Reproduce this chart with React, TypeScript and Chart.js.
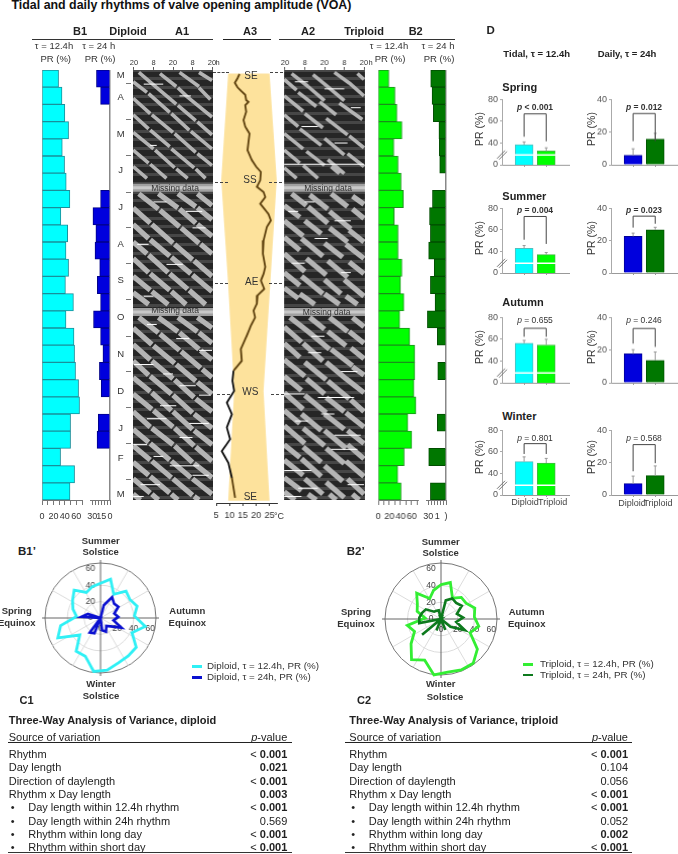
import React, { useEffect, useRef } from "react";
import Chart from "chart.js/auto";

Chart.defaults.font.family = "'Liberation Sans', Arial, sans-serif";

const fortnights = ["Mar b","Apr a","Apr b","May a","May b","Jun a","Jun b","Jul a","Jul b","Aug a","Aug b","Sep a","Sep b","Oct a","Oct b","Nov a","Nov b","Dec a","Dec b","Jan a","Jan b","Feb a","Feb b","Mar a","Mar c"];
const dipTidal = [29,35,40,46.5,35.5,39.5,42.4,48.8,33,45,42,46.5,41,55,42,56,57,58.7,64,65.7,50,50,32.5,57,49];
const dipDaily = [23,16,null,null,null,null,null,16,29,24,25.5,17.5,21.5,16,28,16,12,18,15,null,20,22,null,null,null];
const triTidal = [19,30,33.5,42.5,28,35.5,41,45,28.5,35.5,35.5,42.5,40,46,38.5,56.5,65.5,65.5,64,67.5,53,60,46.5,35,41];
const triDaily = [26,23.7,21.5,12,11.3,10.7,null,23,28,26.5,29.5,20,26.5,18.6,31.6,14.7,null,14,null,null,14.7,null,29.4,null,26.5];

const tempDays = [3.4,7,10.8,14.7,17.6,21,25.5,27,29.8,35.4,42.5,48,54,61,68,76.5,82,86.4,93.5,99,103.4,107.7,113.3,122,127.5,133,144.5,155.8,167,172.8,178.5,185.6,191,198,204,209.7,216.8,225,236.6,246.5,255,263.5,272,282,291.8,303,313,323,333,345.7,362.7];
const tempValues = [13.75,13,12,13,14.25,15.9,16.25,17.1,15.9,16.25,15.25,15.9,17.5,17.1,16.75,18.4,20,21.75,21.5,20.25,22.75,23.4,21.5,24.6,25.5,24,22.75,22.5,23.4,22.75,21.75,23,20.5,20.25,19,19.6,18,16.5,14.25,14.6,11.5,11.1,11.75,9,10.9,9,10.25,7.1,9.6,10.9,12.1];
const daylightDays = [3,93,182,272,365];
const daylightLeft = [9.5,6.9,9.5,11.75,9.5];
const daylightRight = [25,27.7,25.25,22.75,25];

const a1Thin = [[3,2,14,15],[14,15,26,29],[27,30,38,43],[39,44,48,55],[16,3,26,14],[27,15,33,23],[33,23,48,40],[28,2,40,14],[40,15,47,25],[40,2,48,9],[-0.5,10,8,19],[9,20,22,36],[23,37,34,51],[35,52,48,67],[-0.5,24,10,37],[11,38,24,53],[25,54,38,70],[39,71,48,81],[-0.5,38,9,50],[10,51,22,65],[23,67,37,83],[38,84,44,92],[-0.5,53,12,67],[13,68,25,83],[26,84,33,92],[-0.5,68,9,79],[10,80,20,92],[-0.5,82,8,92]];
const a1Thick = [[3,105,15,118],[16,119,28,133],[29,134,40,147],[41,148,48,156],[15,105,27,117],[28,118,38,130],[39,131,48,141],[27,105,38,116],[39,117,48,127],[39,105,48,115],[-0.5,117,10,130],[11,131,24,147],[25,148,36,161],[37,162,48,175],[-0.5,131,9,143],[10,144,22,158],[23,159,35,173],[36,174,48,188],[-0.5,146,8,156],[9,157,21,172],[22,173,33,186],[34,187,44,199],[-0.5,160,9,172],[10,173,22,187],[23,188,32,199],[-0.5,175,10,187],[11,188,21,199],[-0.5,189,9,199],
[3,210,15,223],[16,224,28,238],[29,239,41,253],[42,254,48,261],[15,210,27,222],[28,223,40,237],[41,238,48,246],[27,210,39,222],[40,223,48,232],[39,210,48,219],[-0.5,219,11,233],[12,234,25,249],[26,250,38,264],[39,265,48,275],[-0.5,233,10,246],[11,247,24,262],[25,263,37,278],[38,279,48,290],[-0.5,247,9,259],[10,260,23,275],[24,276,36,291],[37,292,48,304],[-0.5,261,10,273],[11,274,23,289],[24,290,36,305],[37,306,48,318],[-0.5,275,11,288],[12,289,24,303],[25,304,37,319],[38,320,48,332],[-0.5,290,10,303],[11,304,24,318],[25,319,36,333],[37,334,48,346],[-0.5,305,9,316],[10,317,22,331],[23,332,35,346],[36,347,48,360],[-0.5,319,10,331],[11,332,23,346],[24,347,36,361],[37,362,40,365],[-0.5,333,9,344],[10,345,22,359],[23,360,27,365],[-0.5,347,10,359],[11,360,15,365],[-0.5,360,4,365]];
const a1Flecks = [[6,18,12],[28,35,22],[10,14,64],[32,42,120],[2,9,148],[20,30,165],[40,48,238],[0,12,250],[16,26,285],[34,46,300],[-0.5,8,318],[22,40,336],[4,16,352],[28,38,268],[8,14,216],[12,20,112],[36,44,134],[6,12,192],[26,34,228],[18,24,258],[40,47,276],[8,20,296],[28,36,312],[12,18,328],[36,46,344],[-0.5,6,362]];
const a2Thin = [[4,3,14,14],[17,4,25,13],[30,2,39,11],[44,3,48,8],[14,14,24,26],[25,13,36,26],[39,11,48,22],[-0.5,8,7,17],[8,19,19,31],[21,27,31,38],[33,28,47,42],[-0.5,22,11,35],[12,37,23,49],[25,41,38,55],[39,56,48,66],[-0.5,38,8,48],[9,50,22,64],[24,58,36,72],[38,71,48,82],[-0.5,54,11,67],[13,69,24,81],[26,76,36,88],[-0.5,68,9,79],[11,81,20,92],[28,82,33,88],[-0.5,83,7,92]];
const a2Thick = [[4,105,13,115],[15,106,26,118],[28,105,38,116],[41,107,48,114],[-0.5,115,9,125],[14,116,26,130],[27,120,40,135],[41,118,48,126],[-0.5,128,11,141],[12,128,22,139],[27,134,38,146],[39,136,48,146],[-0.5,142,9,153],[10,143,23,158],[24,147,35,159],[37,148,48,160],[-0.5,156,12,171],[13,160,25,174],[26,162,38,176],[39,163,48,173],[-0.5,172,9,183],[10,175,23,190],[24,178,34,190],[36,178,48,192],[-0.5,185,8,194],[9,190,18,199],[24,190,33,199],[37,192,44,199],
[3,210,14,222],[15,210,24,220],[27,210,38,222],[41,210,48,218],[-0.5,218,10,231],[14,222,27,237],[26,222,37,234],[39,222,48,232],[-0.5,232,9,244],[11,232,23,247],[28,237,41,251],[40,236,48,245],[-0.5,246,12,260],[12,248,25,263],[25,248,37,262],[41,252,48,259],[-0.5,260,10,272],[13,262,24,275],[26,264,39,279],[37,262,48,274],[-0.5,274,11,288],[12,276,25,291],[25,278,36,290],[40,280,48,290],[-0.5,289,9,300],[10,292,22,306],[24,292,36,305],[37,291,48,303],[-0.5,302,12,317],[11,304,24,319],[24,306,37,321],[38,306,48,317],[-0.5,318,9,329],[11,320,22,333],[25,321,36,334],[38,318,48,330],[-0.5,331,11,344],[10,330,22,345],[24,336,35,349],[37,332,48,345],[-0.5,346,10,357],[12,347,23,360],[25,350,36,363],[38,347,48,360],[-0.5,358,6,365],[14,360,19,365],[27,360,31,365],[41,360,45,365]];
const a2Flecks = [[-0.5,48,80],[6,14,10],[24,36,16],[40,46,32],[2,8,120],[18,26,143],[-0.5,12,275],[20,42,278],[30,46,310],[-0.5,16,340],[28,44,322],[8,20,355],[14,22,240],[34,40,172],[10,20,48],[30,38,62],[12,18,112],[30,40,128],[4,12,164],[16,24,226],[34,44,256],[6,14,298],[22,30,292],[38,48,352],[-0.5,10,362]];
const missingDays = [100, 205.5];
const clockLabels: Record<number, string> = { 0: "20", 12: "8", 24: "20", 36: "8", 48: "20" };

const seasons = ["Spring", "Summer", "Autumn", "Winter"];
const tidalDip = [38.6, 43, 56.3, 51];
const tidalTri = [32.6, 37, 54.8, 49.7];
const tidalDipErr = [41, 45.5, 59, 55.4];
const tidalTriErr = [35.6, 39, 60, 54];
const dailyDip = [5.8, 22.7, 17.7, 7];
const dailyTri = [15.7, 26.7, 13.7, 12];
const dailyDipErr = [9.8, 24.7, 20.3, 11.7];
const dailyTriErr = [19.3, 28.3, 18.9, 18];
const tidalBracket = [[66.8, 45.8, 41.6], [72.5, 50.9, 47], [70.1, 62.3, 62.3], [67.7, 58.1, 58.1]];
const dailyBracket = [[31.4, 14.5, 14.5], [35.2, 28.1, 30.5], [33.3, 24, 22], [31.2, 14.7, 19.7]];
const tidalP = ["< 0.001", "= 0.004", "= 0.655", "= 0.801"];
const dailyP = ["= 0.012", "= 0.023", "= 0.246", "= 0.568"];

const sources = ["Rhythm", "Day length", "Direction of daylength", "Rhythm x Day length", "Day length within 12.4h rhythm", "Day length within 24h rhythm", "Rhythm within long day", "Rhythm within short day"];
const c1P = ["< 0.001", "0.021", "< 0.001", "0.003", "< 0.001", "0.569", "< 0.001", "< 0.001"];
const c1Bold = [1, 1, 1, 1, 1, 0, 1, 1];
const c2P = ["< 0.001", "0.104", "0.056", "< 0.001", "< 0.001", "0.052", "0.002", "< 0.001"];
const c2Bold = [1, 0, 0, 1, 1, 0, 1, 1];

const months = ["M","A","M","J","J","A","S","O","N","D","J","F","M"];
const monthY = [74.7,97.3,133.7,170,207,243.7,280.3,317.3,354.3,391,427.7,458.3,494.3];
const monthTickY = [83,119,155.3,191.7,227.3,263.3,299.3,335.7,371,407.3,443.3,479.3];

const noPlugins = { legend: { display: false }, tooltip: { enabled: false } };
const base = { responsive: false, animation: false, events: [] as string[] };

type Rect = { x0: number; y0: number; x1: number; y1: number; l: number; t: number; r: number; b: number; topAxis?: boolean; bottomAxis?: boolean; leftAxis?: boolean };

function ChartBox({ rect, config }: { rect: Rect; config: any }) {
  const ref = useRef<HTMLCanvasElement>(null);
  useEffect(() => {
    const { l, t, r, b, topAxis, bottomAxis, leftAxis } = rect;
    const c = { ...config };
    c.options = { ...base, ...c.options, layout: { padding: { left: leftAxis ? 0 : l, right: r, top: topAxis ? 0 : t, bottom: bottomAxis ? 0 : b } } };
    const chart = new Chart(ref.current as HTMLCanvasElement, c);
    return () => chart.destroy();
  }, []);
  const w = rect.x1 - rect.x0 + rect.l + rect.r;
  const h = rect.y1 - rect.y0 + rect.t + rect.b;
  return <canvas ref={ref} width={w} height={h} style={{ position: "absolute", left: rect.x0 - rect.l, top: rect.y0 - rect.t, width: w, height: h }} />;
}

function barConfig(values: any[], fill: string, border: string, max: number, step: number, reverse: boolean, label: (v: number) => string) {
  return {
    type: "bar",
    data: { labels: fortnights, datasets: [{ data: values, backgroundColor: fill, borderColor: border, borderWidth: 1, barPercentage: 1, categoryPercentage: 1 }] },
    options: {
      indexAxis: "y",
      plugins: noPlugins,
      scales: {
        x: {
          type: "linear", min: 0, max, reverse, position: "bottom",
          grid: { drawOnChartArea: false, tickLength: 5, color: "#777", offset: false },
          border: { color: "#777" },
          ticks: { stepSize: step, includeBounds: false, autoSkip: false, maxRotation: 0, padding: 6, font: { size: 9 }, color: "#333", callback: (v: number) => label(v) },
          afterFit: (s: any) => { s.height = 30; },
        },
        y: {
          type: "category", position: reverse ? "right" : "left",
          grid: { display: false }, ticks: { display: false },
          border: { color: "#888", width: reverse ? 1.5 : 1 },
          afterFit: (s: any) => { s.width = 0; },
        },
      },
    },
  };
}

const tidalLabel = (v: number) => (v % 20 === 0 ? String(v) : "");
const b1DailyLabel = (v: number) => (v === 30 || v === 15 || v === 0 ? String(v) : "");
const b2DailyLabel = (v: number) => (v === 30 ? "30" : v === 15 ? "1" : v === 0 ? ")" : "");

function flat(segs: number[][]) {
  const out: any[] = [];
  segs.forEach(([a, b, c, d]) => { out.push({ x: a, y: b }, { x: c, y: d }, { x: NaN, y: NaN }); });
  return out;
}

const plotBg = {
  id: "plotBg",
  beforeDraw(chart: any) {
    const { ctx, chartArea: a } = chart;
    ctx.save();
    ctx.fillStyle = "#262626";
    ctx.fillRect(a.left, a.top, a.right - a.left, a.bottom - a.top);
    ctx.restore();
  },
};

function actoConfig(thin: number[][], thick: number[][], flecks: number[][]) {
  const line = (data: any[], color: string, w: number) => ({ data, borderColor: color, borderWidth: w, pointRadius: 0, showLine: true, spanGaps: false, borderCapStyle: "butt" });
  const fleckData: any[] = [];
  flecks.forEach(([a, b, d]) => fleckData.push({ x: a, y: d }, { x: b, y: d }, { x: NaN, y: NaN }));
  const datasets: any[] = [];
  missingDays.forEach((d) => {
    datasets.push(line([{ x: -0.6, y: d }, { x: 48.6, y: d }], "#c8c8c8", 3));
    datasets.push(line([{ x: -0.6, y: d }, { x: 48.6, y: d }], "#a0a0a0", 8));
  });
  datasets.unshift(line(fleckData, "#ffffff", 1));
  datasets.push(line(flat(thin), "#b4b4b4", 3.6));
  datasets.push(line(flat(thick), "#b4b4b4", 5.2));
  return {
    type: "scatter",
    data: { datasets },
    plugins: [plotBg],
    options: {
      plugins: noPlugins,
      scales: {
        x: {
          type: "linear", position: "top", min: -0.6, max: 48.6,
          grid: { drawOnChartArea: false, tickLength: 3, color: "#555" }, border: { display: false },
          ticks: { stepSize: 12, includeBounds: false, maxRotation: 0, padding: 0, font: { size: 7.5 }, color: "#333", callback: (v: number) => clockLabels[v] ?? "" },
          afterFit: (s: any) => { s.height = 14; },
        },
        y: {
          type: "linear", reverse: true, min: 0, max: 365, z: 1,
          grid: { color: "rgba(255,255,255,0.15)", lineWidth: 3, drawTicks: false }, border: { display: false },
          ticks: { display: false, stepSize: 7.4, includeBounds: false, autoSkip: false },
          afterFit: (s: any) => { s.width = 0; },
        },
      },
    },
  };
}

const tempConfig = {
  type: "scatter",
  data: {
    datasets: [
      {
        data: tempDays.map((d, i) => ({ x: tempValues[i], y: d })),
        showLine: true, pointRadius: 0, borderWidth: 1.8, borderColor: "#5c3f0c",
        segment: { borderColor: (ctx: any) => (ctx.p0.parsed.y > 250 && ctx.p0.parsed.y < 340 ? "#0a0a0a" : "#5c3f0c") },
      },
      {
        data: [...daylightDays.map((d, i) => ({ x: daylightLeft[i], y: d })), ...daylightDays.map((d, i) => ({ x: daylightRight[i], y: d })).reverse()],
        showLine: true, pointRadius: 0, borderWidth: 0, borderColor: "transparent", backgroundColor: "#fde29c", fill: "shape",
      },
    ],
  },
  options: {
    plugins: noPlugins,
    scales: {
      x: {
        type: "linear", min: 5, max: 27.75, position: "bottom",
        grid: { drawOnChartArea: false, tickLength: 3, color: "#333" }, border: { color: "#333" },
        ticks: { stepSize: 5, includeBounds: false, maxRotation: 0, padding: 4, font: { size: 9 }, color: "#333" },
        afterFit: (s: any) => { s.height = 26; },
      },
      y: { type: "linear", reverse: true, min: 0, max: 367, display: false },
    },
  },
};

function makeDPlugin(i: number, tidal: boolean) {
  const errs = tidal ? [tidalDipErr[i], tidalTriErr[i]] : [dailyDipErr[i], dailyTriErr[i]];
  const vals = tidal ? [tidalDip[i], tidalTri[i]] : [dailyDip[i], dailyTri[i]];
  const br = tidal ? tidalBracket[i] : dailyBracket[i];
  return {
    id: "dmarks",
    afterDatasetsDraw(chart: any) {
      const { ctx, scales: { x, y }, chartArea } = chart;
      ctx.save();
      ctx.lineWidth = 1;
      errs.forEach((e, k) => {
        const px = x.getPixelForValue(k + 1);
        ctx.strokeStyle = "#999";
        ctx.beginPath();
        ctx.moveTo(px, y.getPixelForValue(vals[k]));
        ctx.lineTo(px, y.getPixelForValue(e));
        ctx.moveTo(px - 1.5, y.getPixelForValue(e));
        ctx.lineTo(px + 1.5, y.getPixelForValue(e));
        ctx.stroke();
      });
      const xl = x.getPixelForValue(1), xr = x.getPixelForValue(2);
      const yt = y.getPixelForValue(br[0]);
      ctx.strokeStyle = "#444";
      ctx.beginPath();
      ctx.moveTo(xl, y.getPixelForValue(br[1]));
      ctx.lineTo(xl, yt);
      ctx.lineTo(xr, yt);
      ctx.lineTo(xr, y.getPixelForValue(br[2]));
      ctx.stroke();
      if (tidal) {
        const by = y.getPixelForValue(29);
        ctx.strokeStyle = "#fff";
        ctx.lineWidth = 1.6;
        ctx.beginPath();
        ctx.moveTo(chartArea.left + 2, by);
        ctx.lineTo(chartArea.right, by);
        ctx.stroke();
        ctx.strokeStyle = "#666";
        ctx.lineWidth = 0.9;
        ctx.beginPath();
        [-1, 1].forEach((o) => {
          ctx.moveTo(chartArea.left - 4 + o, by + 4 + o * 0.5);
          ctx.lineTo(chartArea.left + 4 + o, by - 4 + o * 0.5);
        });
        ctx.stroke();
      }
      ctx.restore();
    },
  };
}

function dConfig(i: number, tidal: boolean) {
  const dip = tidal ? tidalDip[i] : dailyDip[i];
  const tri = tidal ? tidalTri[i] : dailyTri[i];
  const fills = tidal ? ["#00ffff", "#00ff00"] : ["#0000dd", "#007700"];
  const borders = tidal ? ["#55bdbd", "#44b844"] : ["#000099", "#005500"];
  return {
    type: "bar",
    data: { datasets: [{ data: [{ x: 1, y: dip }, { x: 2, y: tri }], backgroundColor: fills, borderColor: borders, borderWidth: 1, barThickness: 18 }] },
    options: {
      plugins: noPlugins,
      scales: {
        x: {
          type: "linear", min: 0, max: 3.03, offset: false,
          grid: { drawOnChartArea: false, tickLength: 2, color: "#999", offset: false }, border: { color: "#999" },
          afterBuildTicks: (s: any) => { s.ticks = [{ value: 1 }, { value: 2 }]; },
          ticks: { display: false },
          afterFit: (s: any) => { s.height = 18; },
        },
        y: {
          type: "linear", min: tidal ? 20 : 0, max: tidal ? 80 : 40,
          grid: { drawOnChartArea: false, tickLength: 2, color: "#aaa" }, border: { color: "#aaa" },
          ticks: { stepSize: 20, padding: 2, font: { size: 9 }, color: "#555", callback: (v: number) => (tidal && v === 20 ? "0" : String(v)) },
          afterFit: (s: any) => { s.width = 28; },
        },
      },
    },
    plugins: [makeDPlugin(i, tidal)],
  };
}

const radarPlugin = {
  id: "radarAxes",
  beforeDatasetsDraw(chart: any) {
    const { ctx } = chart;
    const s = chart.scales.r;
    const cx = s.xCenter, cy = s.yCenter, R = s.drawingArea;
    ctx.save();
    ctx.strokeStyle = "#dcdcdc";
    ctx.lineWidth = 1;
    for (let a = 30; a < 360; a += 30) {
      if (a % 90 === 0) continue;
      const t = (a * Math.PI) / 180;
      ctx.beginPath();
      ctx.moveTo(cx, cy);
      ctx.lineTo(cx + R * Math.cos(t), cy + R * Math.sin(t));
      ctx.stroke();
    }
    ctx.strokeStyle = "#666";
    ctx.beginPath();
    ctx.moveTo(cx - R - 3, cy); ctx.lineTo(cx + R + 3, cy);
    ctx.moveTo(cx, cy - R - 3); ctx.lineTo(cx, cy + R + 3);
    ctx.stroke();
    ctx.fillStyle = "#444";
    ctx.font = "8.5px 'Liberation Sans'";
    ctx.textAlign = "center";
    ctx.textBaseline = "middle";
    [0, 20, 40, 60].forEach((v) => {
      const d = s.getDistanceFromCenterForValue(v);
      ctx.fillText(String(v), cx - 10, cy - d);
      ctx.fillText(String(v), cx + d, cy + 11);
    });
    ctx.restore();
  },
};

const solsticeStart = 6;
const spin = (a: any[]) => [...a.slice(solsticeStart), ...a.slice(0, solsticeStart)].map((v) => v ?? 0);

function radarConfig(daily: any[], tidal: any[], dc: string, tc: string) {
  return {
    type: "radar",
    data: {
      labels: spin(fortnights),
      datasets: [
        { data: spin(daily), borderColor: dc, borderWidth: 2.6, pointRadius: 0, fill: false, tension: 0 },
        { data: spin(tidal), borderColor: tc, borderWidth: 2.8, pointRadius: 0, fill: false, tension: 0 },
      ],
    },
    options: {
      plugins: noPlugins,
      scales: {
        r: {
          min: 0, max: 67,
          ticks: { display: false, stepSize: 20 },
          pointLabels: { display: false },
          angleLines: { display: false },
          grid: { circular: true, color: (c: any) => (c.tick && c.tick.value >= 66 ? "#777" : "#dcdcdc") },
        },
      },
    },
    plugins: [radarPlugin],
  };
}

const T = ({ x, y, s = 10, b, c = "#222", a = "c", rot, children }: any) => (
  <div style={{ position: "absolute", left: x, top: y, fontSize: s, fontWeight: b ? 700 : 400, color: c, whiteSpace: "nowrap", lineHeight: 1, transform: `translate(${a === "c" ? "-50%" : a === "r" ? "-100%" : "0"},-50%)${rot ? ` rotate(${rot}deg)` : ""}` }}>{children}</div>
);
const R = ({ x, y, w, h, c = "#222" }: any) => <div style={{ position: "absolute", left: x, top: y, width: w, height: h, background: c }} />;
const Dash = ({ x, y, w }: any) => <div style={{ position: "absolute", left: x, top: y, width: w, borderTop: "1px dashed #444" }} />;

function Table({ left, rule0, rule1, right, title, label, labelX, ps, bolds }: any) {
  return (
    <>
      <T x={labelX} y={699.5} s={11} b a="l">{label}</T>
      <T x={left} y={719.5} s={11} b a="l">{title}</T>
      <T x={left} y={736.5} s={11} a="l">Source of variation</T>
      <T x={right} y={736.5} s={11} a="r"><i>p</i>-value</T>
      <R x={rule0} y={741.5} w={rule1 - rule0} h={1.6} c="#222" />
      {sources.map((src, i) => {
        const y = 754 + i * 13.3;
        return (
          <React.Fragment key={src}>
            {i >= 4 ? <T x={left + 2} y={y} s={11} a="l">•</T> : null}
            <T x={i >= 4 ? left + 19.5 : left} y={y} s={11} a="l">{src}</T>
            <T x={right} y={y} s={11} a="r">
              {bolds[i] ? (ps[i].startsWith("<") ? <>&lt; <b>{ps[i].slice(2)}</b></> : <b>{ps[i]}</b>) : ps[i]}
            </T>
          </React.Fragment>
        );
      })}
      <R x={rule0} y={851.5} w={rule1 - rule0} h={1.6} c="#333" />
    </>
  );
}

const barRect = (x0: number, x1: number): Rect => ({ x0, x1, y0: 70, y1: 500, l: 14, r: 14, t: 0, b: 30, bottomAxis: true });
const dRowsTop = [98, 207, 316, 429.3];
const dRowsBottom = [164.7, 273.3, 382.7, 495.3];
const seasonY = [87, 195.7, 301.7, 415.7];
const prY = [129, 238, 346.7, 457];
const pY = [107.3, 210.3, 320, 438.3];

export default function App() {
  return (
    <div style={{ position: "absolute", left: 0, top: 0, width: 678, height: 854, overflow: "hidden", background: "#fff", fontFamily: "'Liberation Sans', Arial, sans-serif" }}>
      <ChartBox rect={barRect(42, 82)} config={barConfig(dipTidal, "#00ffff", "#1a8f9a", 70, 10, false, tidalLabel)} />
      <ChartBox rect={barRect(89.8, 109.8)} config={barConfig(dipDaily, "#0000dd", "#000088", 34, 5, true, b1DailyLabel)} />
      <ChartBox rect={barRect(378, 417.7)} config={barConfig(triTidal, "#00ff00", "#1a8f1a", 71, 10, false, tidalLabel)} />
      <ChartBox rect={barRect(426, 446)} config={barConfig(triDaily, "#007700", "#004d00", 34, 5, true, b2DailyLabel)} />

      <ChartBox rect={{ x0: 133, x1: 213, y0: 70, y1: 500, l: 6, r: 6, t: 14, b: 0, topAxis: true }} config={actoConfig(a1Thin, a1Thick, a1Flecks)} />
      <ChartBox rect={{ x0: 284.3, x1: 365, y0: 70, y1: 500, l: 6, r: 6, t: 14, b: 0, topAxis: true }} config={actoConfig(a2Thin, a2Thick, a2Flecks)} />
      <ChartBox rect={{ x0: 216, x1: 276.7, y0: 70, y1: 502.7, l: 12, r: 12, t: 0, b: 26, bottomAxis: true }} config={tempConfig} />

      {seasons.map((_, i) => (
        <React.Fragment key={i}>
          <ChartBox rect={{ x0: 502, x1: 569, y0: dRowsTop[i], y1: dRowsBottom[i], l: 28, r: 8, t: 6, b: 18, bottomAxis: true, leftAxis: true }} config={dConfig(i, true)} />
          <ChartBox rect={{ x0: 611, x1: 678, y0: dRowsTop[i], y1: dRowsBottom[i], l: 28, r: 0, t: 6, b: 18, bottomAxis: true, leftAxis: true }} config={dConfig(i, false)} />
        </React.Fragment>
      ))}

      <ChartBox rect={{ x0: 44.7, x1: 156.7, y0: 562.3, y1: 674.3, l: 6, r: 6, t: 6, b: 6 }} config={radarConfig(dipDaily, dipTidal, "#0a10d0", "#2ff0f5")} />
      <ChartBox rect={{ x0: 384.7, x1: 496.7, y0: 563, y1: 675, l: 6, r: 6, t: 6, b: 6 }} config={radarConfig(triDaily, triTidal, "#0d7a1d", "#33ee33")} />

      <T x={11.5} y={5} s={12.4} b a="l" c="#111">Tidal and daily rhythms of valve opening amplitude (VOA)</T>

      <T x={80} y={31} s={11} b>B1</T>
      <T x={128} y={31} s={11} b>Diploid</T>
      <T x={182} y={31} s={11} b>A1</T>
      <T x={250} y={31} s={11} b>A3</T>
      <T x={308} y={31} s={11} b>A2</T>
      <T x={364} y={31} s={11} b>Triploid</T>
      <T x={415.7} y={31} s={11} b>B2</T>
      <R x={32} y={38.5} w={181} h={1.2} c="#333" />
      <R x={223} y={38.5} w={48} h={1.2} c="#222" />
      <R x={279} y={38.5} w={176} h={1.2} c="#333" />

      <T x={54} y={46} s={9.5} c="#333">τ = 12.4h</T>
      <T x={98.7} y={46} s={9.5} c="#333">τ = 24 h</T>
      <T x={55.7} y={59} s={9.5} c="#333">PR (%)</T>
      <T x={100} y={59} s={9.5} c="#333">PR (%)</T>
      <T x={389} y={46} s={9.5} c="#333">τ = 12.4h</T>
      <T x={438} y={46} s={9.5} c="#333">τ = 24 h</T>
      <T x={390} y={59} s={9.5} c="#333">PR (%)</T>
      <T x={439} y={59} s={9.5} c="#333">PR (%)</T>

      {months.map((m, i) => <T key={i} x={120.7} y={monthY[i]} s={9.5} c="#333">{m}</T>)}
      {monthTickY.map((y, i) => <R key={i} x={126} y={y} w={4.5} h={1} c="#777" />)}

      <T x={217.7} y={63} s={7.5} c="#333">h</T>
      <T x={370.7} y={63} s={7.5} c="#333">h</T>
      <T x={175} y={188} s={8.5} c="#333">Missing data</T>
      <T x={175} y={310.3} s={8.5} c="#333">Missing data</T>
      <T x={328} y={187.7} s={8.5} c="#333">Missing data</T>
      <T x={326.7} y={312.3} s={8.5} c="#333">Missing data</T>

      <Dash x={213} y={72} w={16} /><Dash x={270} y={72} w={13} />
      <Dash x={215} y={181.5} w={13} /><Dash x={269} y={181.5} w={13} />
      <Dash x={215} y={283} w={13} /><Dash x={269} y={283} w={13} />
      <Dash x={217} y={393.7} w={13} /><Dash x={271} y={393.7} w={13} />
      <T x={251} y={76} s={10} c="#333">SE</T>
      <T x={250} y={180} s={10} c="#333">SS</T>
      <T x={251.7} y={282.3} s={10} c="#333">AE</T>
      <T x={250.3} y={392} s={10} c="#333">WS</T>
      <T x={250.3} y={496.7} s={10} c="#333">SE</T>
      <T x={274} y={515.7} s={9} a="l" c="#333">°C</T>

      <T x={490.7} y={31} s={11.5} b>D</T>
      <T x={536.7} y={54} s={9.5} b c="#222">Tidal, τ = 12.4h</T>
      <T x={627} y={54} s={9.5} b c="#222">Daily, τ = 24h</T>
      {seasons.map((name, i) => (
        <React.Fragment key={name}>
          <T x={502.3} y={seasonY[i]} s={11} b a="l">{name}</T>
          <T x={478.7} y={prY[i]} s={10.5} c="#333" rot={-90}>PR (%)</T>
          <T x={590.7} y={prY[i]} s={10.5} c="#333" rot={-90}>PR (%)</T>
          <T x={535} y={pY[i]} s={8.5} b={i < 2} c="#333"><i>p</i> {tidalP[i]}</T>
          <T x={644} y={pY[i]} s={8.5} b={i < 2} c="#333"><i>p</i> {dailyP[i]}</T>
        </React.Fragment>
      ))}
      <T x={525} y={501.5} s={9} c="#444">Diploid</T>
      <T x={552.7} y={501.5} s={9} c="#444">Triploid</T>
      <T x={632} y={502.5} s={9} c="#444">Diploid</T>
      <T x={658} y={502.5} s={9} c="#444">Triploid</T>

      <T x={27} y={551.7} s={11.5} b>B1’</T>
      <T x={355.7} y={552} s={11.5} b>B2’</T>
      <T x={100.7} y={540.7} s={9.5} b c="#333">Summer</T>
      <T x={100.7} y={552.3} s={9.5} b c="#333">Solstice</T>
      <T x={187.3} y={611} s={9.5} b c="#333">Autumn</T>
      <T x={187.3} y={622.7} s={9.5} b c="#333">Equinox</T>
      <T x={16.7} y={611} s={9.5} b c="#333">Spring</T>
      <T x={16.7} y={623} s={9.5} b c="#333">Equinox</T>
      <T x={101} y={684} s={9.5} b c="#333">Winter</T>
      <T x={101} y={696} s={9.5} b c="#333">Solstice</T>
      <T x={440.7} y={541.7} s={9.5} b c="#333">Summer</T>
      <T x={440.7} y={553} s={9.5} b c="#333">Solstice</T>
      <T x={526.7} y={612} s={9.5} b c="#333">Autumn</T>
      <T x={526.7} y={623.7} s={9.5} b c="#333">Equinox</T>
      <T x={356} y={612} s={9.5} b c="#333">Spring</T>
      <T x={356} y={624} s={9.5} b c="#333">Equinox</T>
      <T x={440.7} y={684} s={9.5} b c="#333">Winter</T>
      <T x={445} y={697} s={9.5} b c="#333">Solstice</T>

      <R x={192} y={665} w={10} h={2.6} c="#2ff0f5" />
      <R x={192} y={676} w={10} h={2.6} c="#0a10d0" />
      <T x={207} y={666} s={9.8} a="l" c="#333">Diploid, τ = 12.4h, PR (%)</T>
      <T x={207} y={677} s={9.8} a="l" c="#333">Diploid, τ = 24h, PR (%)</T>
      <R x={522.7} y={663} w={10} h={2.6} c="#33ee33" />
      <R x={522.7} y={673.5} w={10} h={2.6} c="#0d7a1d" />
      <T x={540} y={664} s={9.8} a="l" c="#333">Triploid, τ = 12.4h, PR (%)</T>
      <T x={540} y={674.5} s={9.8} a="l" c="#333">Triploid, τ = 24h, PR (%)</T>

      <Table left={8.7} rule0={8} rule1={291.5} right={287.3} labelX={19.6} label="C1" title="Three-Way Analysis of Variance, diploid" ps={c1P} bolds={c1Bold} />
      <Table left={349.3} rule0={345} rule1={632} right={628} labelX={357} label="C2" title="Three-Way Analysis of Variance, triploid" ps={c2P} bolds={c2Bold} />
    </div>
  );
}
